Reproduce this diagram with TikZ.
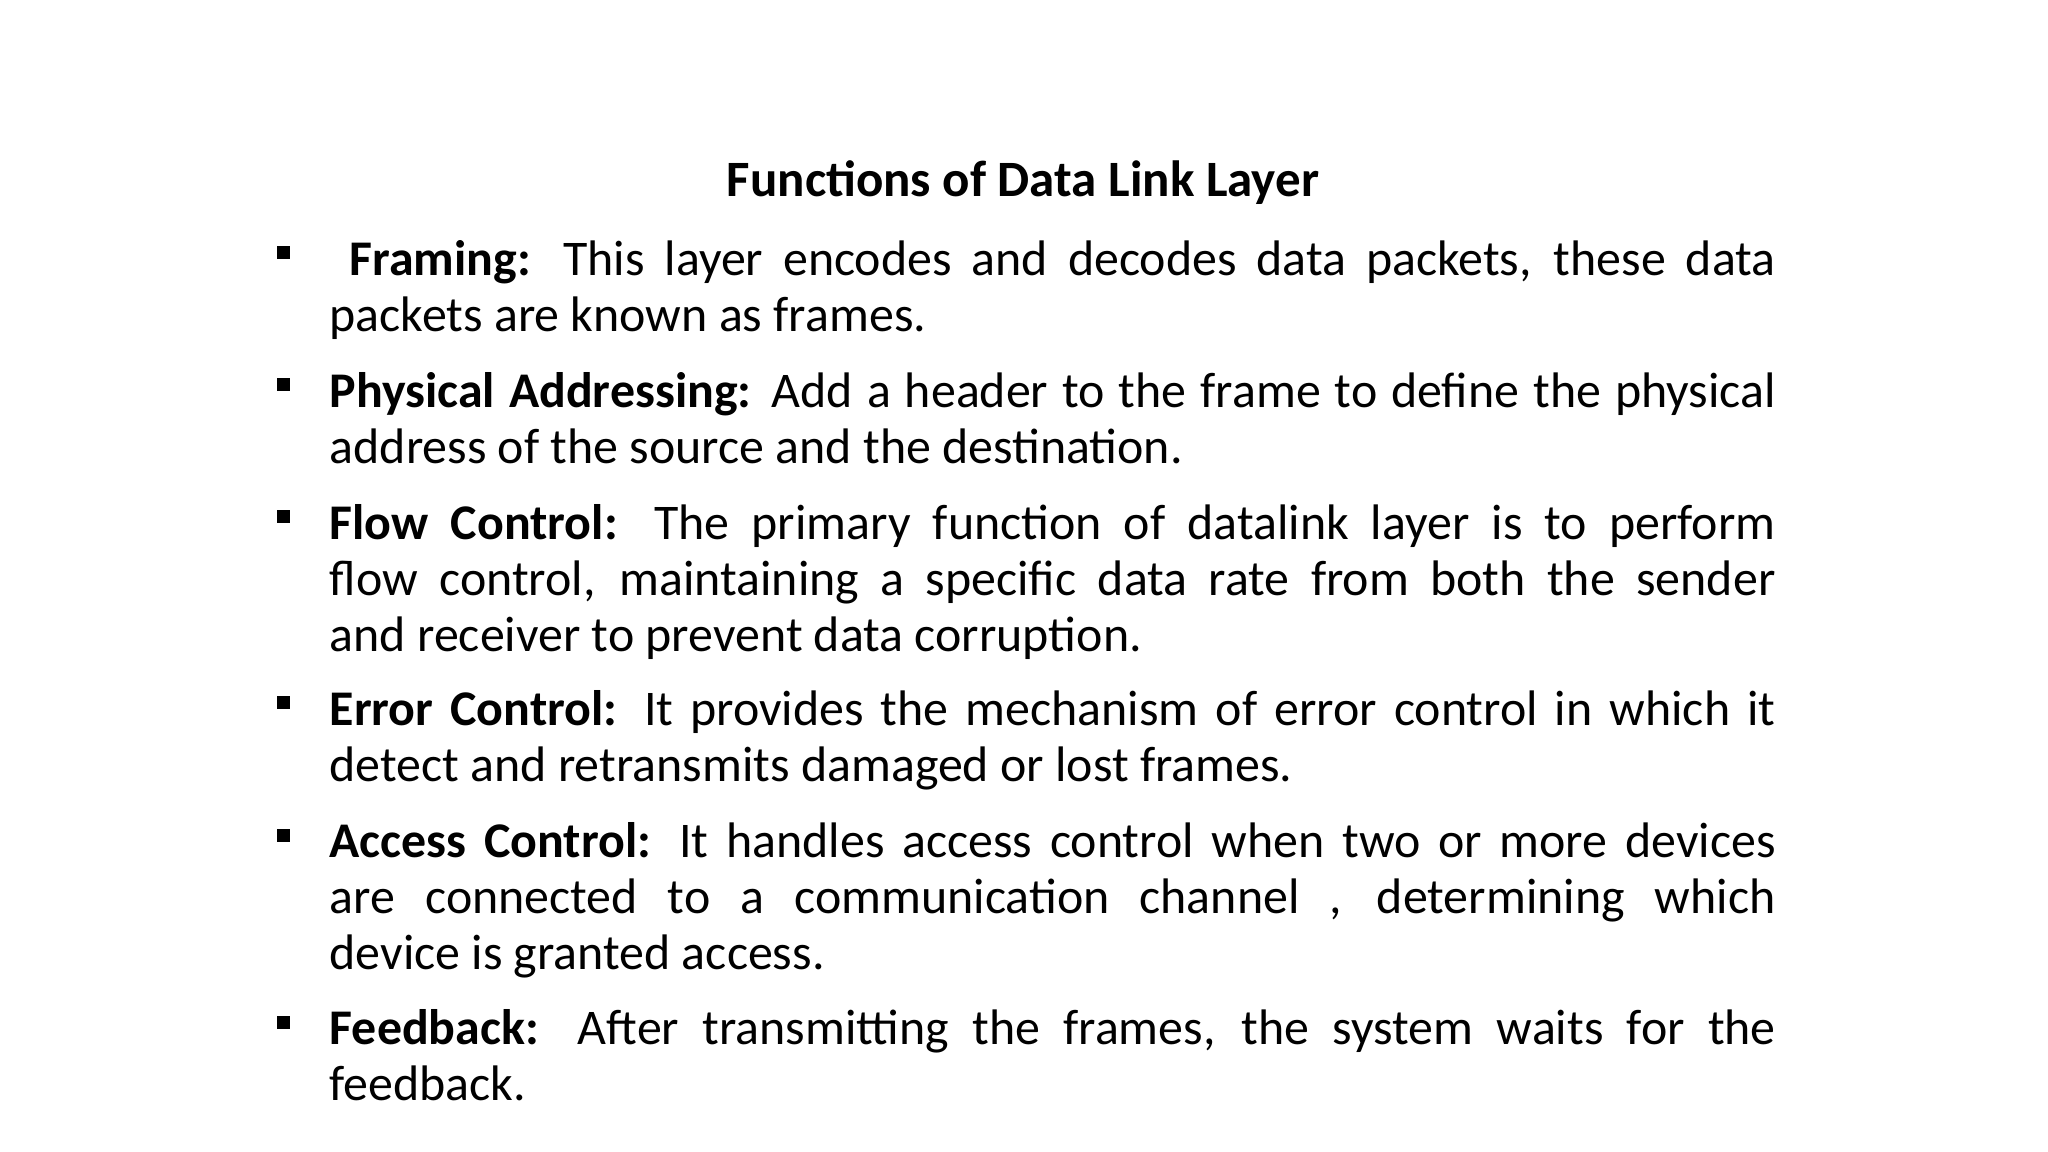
\documentclass[tikz,border=0pt]{standalone}
\usepackage{fontspec}
\setmainfont{Carlito}
\newcommand\myfont{\fontsize{14.2}{15.9}\selectfont\hyphenpenalty=10000 \exhyphenpenalty=10000 \emergencystretch=2em }
\begin{document}
\begin{tikzpicture}[x=1cm,y=1cm,
  item/.style={anchor=north west,inner sep=0pt,text width=14.46cm,align=justify,font=\myfont},
  sq/.style={fill=black,minimum size=0.13cm,inner sep=0pt}]
\useasboundingbox (0,0) rectangle (20.48,-11.52);
\node[font=\fontsize{14.5}{15.9}\selectfont\bfseries] (title) at (10.23,-1.83) {Functions of Data Link Layer};
\node[item] (i1) at (3.29,-2.36) {\strut\ \textbf{Framing:} This layer encodes and decodes data packets, these data\linebreak packets are known as frames.};
\node[item] (i2) at (3.29,-3.68) {\strut\textbf{Physical Addressing:} Add a header to the frame to define the physical\linebreak address of the source and the destination.};
\node[item] (i3) at (3.29,-5.00) {\strut\textbf{Flow Control:} The primary function of datalink layer is to perform\linebreak flow control, maintaining a specific data rate from both the sender\linebreak and receiver to prevent data corruption.};
\node[item] (i4) at (3.29,-6.86) {\strut\textbf{Error Control:} It provides the mechanism of error control in which it\linebreak detect and retransmits damaged or lost frames.};
\node[item] (i5) at (3.29,-8.18) {\strut\textbf{Access Control:} It handles access control when two or more devices\linebreak are connected to a communication channel , determining which\linebreak device is granted access.};
\node[item] (i6) at (3.29,-10.05) {\strut\textbf{Feedback:} After transmitting the frames, the system waits for the\linebreak feedback.};
\node[sq] (b1) at (2.83,-2.53) {};
\node[sq] (b2) at (2.83,-3.85) {};
\node[sq] (b3) at (2.83,-5.17) {};
\node[sq] (b4) at (2.83,-7.03) {};
\node[sq] (b5) at (2.83,-8.35) {};
\node[sq] (b6) at (2.83,-10.22) {};
\end{tikzpicture}
\end{document}
